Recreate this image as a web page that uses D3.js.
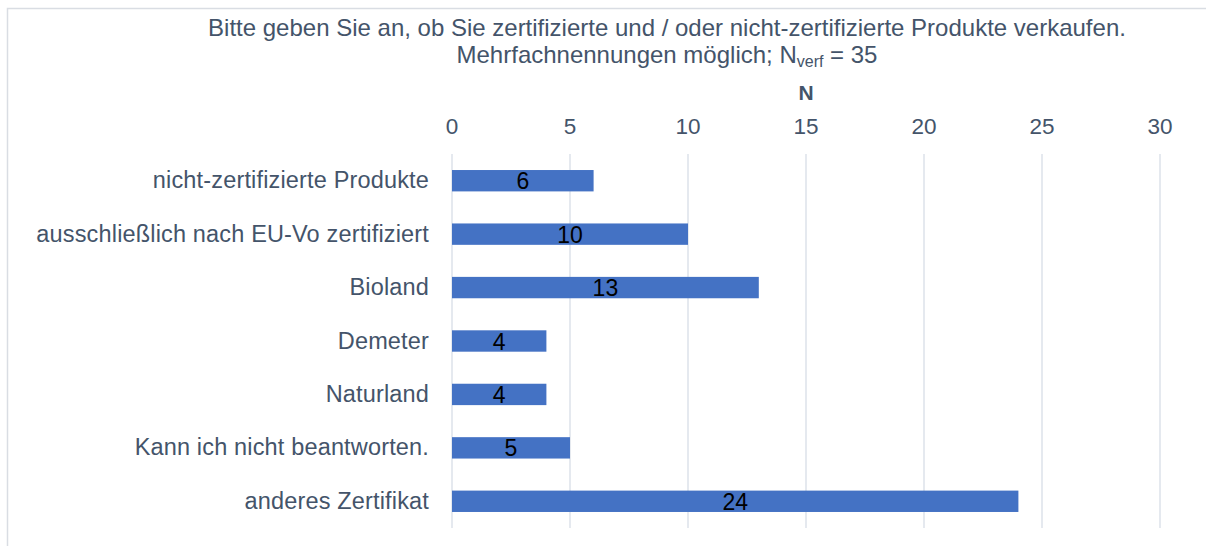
<!DOCTYPE html>
<html>
<head>
<meta charset="utf-8">
<script src="https://cdn.jsdelivr.net/npm/d3@7"></script>
<style>
  body { margin: 0; background: #fff; overflow: hidden; }
  svg { display: block; font-family: "Liberation Sans", Arial, sans-serif; }
</style>
</head>
<body>
<svg id="chart"></svg>
<script>
// Daten
const categories = [
  "nicht-zertifizierte Produkte",
  "ausschließlich nach EU-Vo zertifiziert",
  "Bioland",
  "Demeter",
  "Naturland",
  "Kann ich nicht beantworten.",
  "anderes Zertifikat"
];
const values = [6, 10, 13, 4, 4, 5, 24];
const xTicks = [0, 5, 10, 15, 20, 25, 30];

const width = 1206;
const height = 546;
const textColor = "#44546a";

const svg = d3.select("#chart")
  .attr("width", width)
  .attr("height", height);

// Rahmen: nur linke und obere Kante sind im Bild
svg.append("path")
  .attr("d", "M7.5,546V8.5H1206")
  .attr("fill", "none")
  .attr("stroke", "#d9dde3")
  .attr("stroke-width", 1.5);

const x = d3.scaleLinear().domain([0, 30]).range([452, 1160]);
const y = d3.scaleBand().domain(categories).range([154, 528]).paddingInner(0.6).paddingOuter(0.3);

// Gitterlinien
svg.append("g")
  .selectAll("line")
  .data(xTicks)
  .join("line")
  .attr("x1", d => x(d)).attr("x2", d => x(d))
  .attr("y1", 154).attr("y2", 528)
  .attr("stroke", "#dde2ea")
  .attr("stroke-width", 1.5);

// Achsenbeschriftung oben
svg.append("g")
  .selectAll("text")
  .data(xTicks)
  .join("text")
  .attr("x", d => x(d))
  .attr("y", 134)
  .attr("text-anchor", "middle")
  .attr("font-size", "22.5px")
  .attr("fill", textColor)
  .text(d => d);

svg.append("text")
  .attr("x", x(15)).attr("y", 100)
  .attr("text-anchor", "middle")
  .attr("font-size", "21px")
  .attr("font-weight", "bold")
  .attr("fill", textColor)
  .text("N");

// Titel
const title = svg.append("text")
  .attr("text-anchor", "middle")
  .attr("font-size", "24px")
  .attr("fill", textColor);
title.append("tspan")
  .attr("x", 667).attr("y", 36)
  .text("Bitte geben Sie an, ob Sie zertifizierte und / oder nicht-zertifizierte Produkte verkaufen.");
const t2 = title.append("tspan").attr("x", 667).attr("y", 63);
t2.append("tspan").text("Mehrfachnennungen möglich; N");
t2.append("tspan").attr("font-size", "16px").attr("dy", 4).text("verf");
t2.append("tspan").attr("dy", -4).text(" = 35");

// Kategorien
svg.append("g")
  .selectAll("text")
  .data(categories)
  .join("text")
  .attr("x", 429)
  .attr("y", d => y(d) + y.bandwidth() / 2 + 7.5)
  .attr("text-anchor", "end")
  .attr("font-size", "23.5px")
  .attr("letter-spacing", "0.16px")
  .attr("fill", textColor)
  .text(d => d);

// Balken
svg.append("g")
  .selectAll("rect")
  .data(values)
  .join("rect")
  .attr("x", x(0))
  .attr("y", (d, i) => y(categories[i]))
  .attr("width", d => x(d) - x(0))
  .attr("height", y.bandwidth())
  .attr("fill", "#4472c4");

// Werte
svg.append("g")
  .selectAll("text")
  .data(values)
  .join("text")
  .attr("x", d => x(d / 2))
  .attr("y", (d, i) => y(categories[i]) + y.bandwidth() / 2 + 8.5)
  .attr("text-anchor", "middle")
  .attr("font-size", "23px")
  .attr("fill", "#000")
  .text(d => d);
</script>
</body>
</html>
